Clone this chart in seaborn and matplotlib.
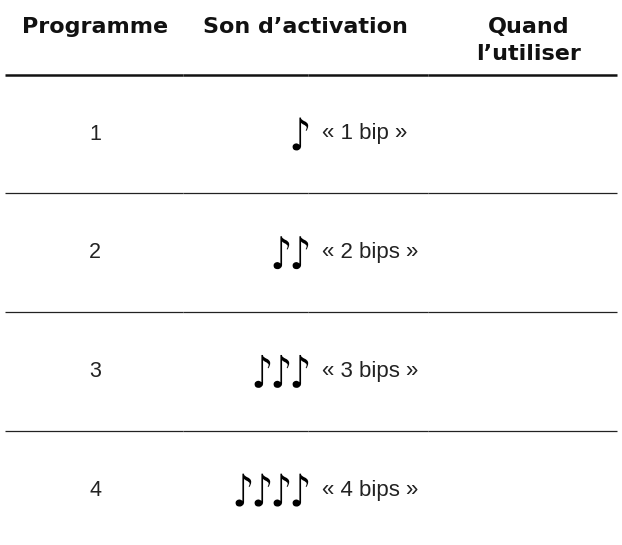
import matplotlib
matplotlib.use("Agg")
import matplotlib.pyplot as plt
import numpy as np
import pandas as pd
import seaborn as sns
from matplotlib.font_manager import FontProperties
from matplotlib.path import Path
from matplotlib.textpath import TextPath

# Table content
headers = ["Programme", "Son d’activation", "Quand\nl’utiliser"]
programmes = ["1", "2", "3", "4"]
bip_counts = [1, 2, 3, 4]
bip_labels = ["« 1 bip »", "« 2 bips »", "« 3 bips »", "« 4 bips »"]

sns.set_theme(style="white")
plt.rcParams['font.family'] = ['Liberation Sans', 'DejaVu Sans']

W, H = 622, 545
fig = plt.figure(figsize=(W / 100, H / 100), dpi=100)
ax = fig.add_axes([0, 0, 1, 1])

# Layout (pixels)
hdr_x = [95, 305, 529]
hdr_base, hdr_lead = 33, 27
row_x = 95
row_y0, row_h = 134, 118.7
note_last, note_step = 299, 19
text_left = 322
# cell borders leave tiny gaps in the rules
cell_edges = [5, 183, 308, 428, 617]

# eighth-note marker, stretched vertically like the reference glyph
tp = TextPath((0, 0), "♪", size=10, prop=FontProperties(family='DejaVu Sans'))
v = tp.vertices.copy()
v -= (v.min(axis=0) + v.max(axis=0)) / 2
v[:, 1] *= 1.35
note_marker = Path(v, tp.codes)

# one point per note
notes = pd.DataFrame(
    [(note_last - k * note_step, row_y0 + i * row_h)
     for i, n in enumerate(bip_counts) for k in range(n)],
    columns=['x', 'y'])
sns.scatterplot(data=notes, x='x', y='y', marker=note_marker, s=560,
                color='black', edgecolor='none', linewidth=0, ax=ax, legend=False)

ax.set_xlim(0, W)
ax.set_ylim(H, 0)
ax.axis('off')


def rule(y, lw, color):
    starts = [e + 0.25 for e in cell_edges[:-1]]
    ends = [e - 0.25 for e in cell_edges[1:]]
    starts[0], ends[-1] = cell_edges[0], cell_edges[-1]
    ax.hlines([y] * len(starts), starts, ends, color=color, linewidth=lw)


# header
hdr = dict(fontsize=16, fontweight='bold', family='DejaVu Sans',
           color='#111111', ha='center', va='baseline')
ax.text(hdr_x[0], hdr_base, headers[0], **hdr)
ax.text(hdr_x[1], hdr_base, headers[1], **hdr)
for j, line in enumerate(headers[2].split("\n")):
    ax.text(hdr_x[2], hdr_base + j * hdr_lead, line, **hdr)
rule(74.5, 1.8, '#111111')

for i, (prog, lab) in enumerate(zip(programmes, bip_labels)):
    y = row_y0 + i * row_h
    ax.text(row_x, y, prog, ha='center', va='center',
            fontsize=15.5, color='#222222')
    ax.text(text_left, y, lab, ha='left', va='center',
            fontsize=16, color='#222222')
    if i < len(programmes) - 1:
        rule(y + row_h / 2, 0.9, '#222222')

fig.savefig("out.png", dpi=100)
